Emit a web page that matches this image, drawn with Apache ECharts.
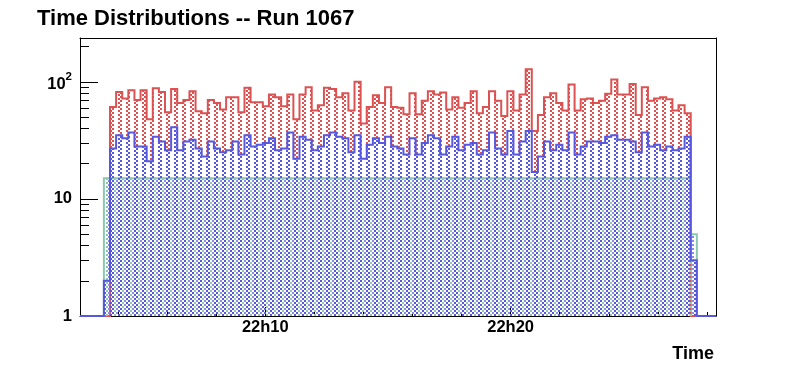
<!DOCTYPE html>
<html>
<head>
<meta charset="utf-8">
<script src="https://cdn.jsdelivr.net/npm/echarts@6/dist/echarts.min.js"></script>
<style>
html,body{margin:0;padding:0;background:#fff;}
#chart{width:796px;height:372px;}
</style>
</head>
<body>
<div id="chart"></div>
<script>
// ---- data (time axis in seconds after 22:00:00) ----
const titleText = 'Time Distributions -- Run 1067';
const xAxisName = 'Time';
const xMin = 146.8, xMax = 1702.2;
const yMin = 1, yMax = 237;
const binStart = 205.2;
const binWidth = 14.95;

const redCounts = [0,
  61,82,72,85,70,85,48,88,82,55,87,66,70,83,56,54,70,66,58,74,
  74,55,89,67,67,62,78,74,62,78,48,78,90,57,63,89,87,74,80,57,
  100,44,61,77,66,90,61,60,53,80,53,69,83,78,81,58,74,60,66,83,
  54,61,83,69,51,83,57,78,128,38,52,74,80,66,57,95,57,71,72,66,
  69,79,105,78,78,96,52,90,69,72,74,71,57,63,54,
  0];
const blueCounts = [2,
  27,35,33,37,28,28,21,34,31,26,41,26,31,32,27,23,31,27,25,26,
  31,24,35,28,29,30,33,26,27,37,22,34,32,26,28,35,37,34,33,25,
  35,22,29,33,30,34,28,27,24,33,24,30,35,33,24,28,34,26,29,30,
  24,26,37,27,24,38,24,31,38,17,23,31,26,29,26,37,24,28,31,31,
  30,34,35,32,32,31,25,37,28,29,26,28,26,27,34,
  3];
const greenCounts = [15,
  15,15,15,15,15,15,15,15,15,15,15,15,15,15,15,15,15,15,15,15,
  15,15,15,15,15,15,15,15,15,15,15,15,15,15,15,15,15,15,15,15,
  15,15,15,15,15,15,15,15,15,15,15,15,15,15,15,15,15,15,15,15,
  15,15,15,15,15,15,15,15,15,15,15,15,15,15,15,15,15,15,15,15,
  15,15,15,15,15,15,15,15,15,15,15,15,15,15,15,
  5];

const xTickValues = [240,360,480,600,720,840,960,1080,1200,1320,1440,1560,1680];
const xMajorTickValues = [600,1200];
const xLabelValues = [600,1200];
const xLabelTexts = ['22h10','22h20'];
const yMinorTickValues = [2,3,4,5,6,7,8,9,20,30,40,50,60,70,80,90,200];
const yMajorTickValues = [1,10,100];
const yLabelTexts = ['1','10','10^2'];

// ---- styling ----
const FONT = '"Liberation Sans", Arial, Helvetica, sans-serif';
const RED = 'rgb(220,82,82)';
const BLUE = 'rgb(88,88,222)';
const BLUE2 = 'rgb(135,140,232)';
const GREEN = 'rgb(140,200,175)';

function makePattern(blocks, w, h) {
  const c = document.createElement('canvas');
  c.width = w; c.height = h;
  const ctx = c.getContext('2d');
  blocks.forEach(b => { ctx.fillStyle = b[4]; ctx.fillRect(b[0], b[1], b[2], b[3]); });
  return { image: c, repeat: 'repeat' };
}
const redPattern = makePattern([[0,0,2,2,RED],[6,2,2,2,RED]], 8, 4);
const bluePattern = makePattern([[0,0,2,2,BLUE],[6,2,2,2,BLUE]], 8, 4);
const greenPattern = makePattern([[4,0,2,2,BLUE2],[2,2,2,2,GREEN]], 8, 4);

function histPoints(counts) {
  let first = 0, last = counts.length - 1;
  while (first < last && !(counts[first] > 0)) first++;
  while (last > first && !(counts[last] > 0)) last--;
  const x0 = binStart + first * binWidth;
  const x1 = binStart + (last + 1) * binWidth;
  const pts = [[xMin, yMin], [x0, yMin]];
  for (let i = first; i <= last; i++) {
    const a = binStart + i * binWidth;
    const v = Math.max(counts[i], yMin);
    pts.push([a, v], [a + binWidth, v]);
  }
  pts.push([x1, yMin], [xMax, yMin]);
  return pts;
}

function histSeries(name, counts, color, pattern, lw) {
  const raw = histPoints(counts);
  return {
    type: 'custom', name: name, xAxisIndex: 0, yAxisIndex: 0,
    silent: true, clip: false, animation: false,
    data: [[binStart, yMin]],
    renderItem: function (params, api) {
      const pts = raw.map(p => api.coord(p));
      return {
        type: 'group',
        children: [
          { type: 'polygon', shape: { points: pts }, style: { fill: pattern, stroke: null } },
          { type: 'polyline', shape: { points: pts }, style: { fill: null, stroke: color, lineWidth: lw } }
        ]
      };
    }
  };
}

const chart = echarts.init(document.getElementById('chart'), null, { renderer: 'canvas' });

const yLabelRich = {
  n: { fontSize: 16.5, fontWeight: 'bold', fontFamily: FONT, color: '#000' },
  b: { fontSize: 16.5, fontWeight: 'bold', fontFamily: FONT, color: '#000', lineHeight: 23, verticalAlign: 'bottom' },
  s: { fontSize: 11.5, fontWeight: 'bold', fontFamily: FONT, color: '#000', lineHeight: 12, verticalAlign: 'top' }
};

const option = {
  animation: false,
  backgroundColor: '#fff',
  grid: { left: 80, top: 38, width: 636, height: 278, containLabel: false, outerBoundsMode: 'none' },
  xAxis: [
    {
      type: 'value', position: 'bottom', min: xMin, max: xMax,
      axisLine: { show: true, onZero: false, lineStyle: { color: '#000', width: 1 } },
      axisTick: { show: true, inside: true, length: 4, customValues: xTickValues, lineStyle: { color: '#000', width: 1 } },
      axisLabel: {
        show: true, customValues: xLabelValues, margin: 3,
        fontSize: 16.5, fontWeight: 'bold', fontFamily: FONT, color: '#000',
        formatter: function (v) { const i = xLabelValues.indexOf(Math.round(v)); return i >= 0 ? xLabelTexts[i] : ''; }
      },
      splitLine: { show: false }
    },
    {
      type: 'value', position: 'bottom', min: xMin, max: xMax,
      axisLine: { show: false, onZero: false },
      axisTick: { show: true, inside: true, length: 9, customValues: xMajorTickValues, lineStyle: { color: '#000', width: 1 } },
      axisLabel: { show: false }, splitLine: { show: false }
    },
    {
      type: 'value', position: 'top', min: xMin, max: xMax,
      axisLine: { show: true, onZero: false, lineStyle: { color: '#000', width: 1 } },
      axisTick: { show: false }, axisLabel: { show: false }, splitLine: { show: false }
    }
  ],
  yAxis: [
    {
      type: 'log', logBase: 10, position: 'left', min: yMin, max: yMax,
      axisLine: { show: true, onZero: false, lineStyle: { color: '#000', width: 1 } },
      axisTick: { show: true, inside: true, length: 9, customValues: yMinorTickValues, lineStyle: { color: '#000', width: 1 } },
      axisLabel: {
        show: true, customValues: yMajorTickValues, margin: 8, rich: yLabelRich,
        formatter: function (v) {
          let idx = -1;
          yMajorTickValues.forEach((t, i) => { if (Math.abs(t - v) < 1e-6 * t) idx = i; });
          if (idx < 0) return '';
          const txt = yLabelTexts[idx];
          if (txt.indexOf('^') >= 0) { const parts = txt.split('^'); return '{b|' + parts[0] + '}{s|' + parts[1] + '}'; }
          return '{n|' + txt + '}';
        }
      },
      splitLine: { show: false }, minorTick: { show: false }
    },
    {
      type: 'log', logBase: 10, position: 'left', min: yMin, max: yMax,
      axisLine: { show: false, onZero: false },
      axisTick: { show: true, inside: true, length: 18, customValues: yMajorTickValues, lineStyle: { color: '#000', width: 1 } },
      axisLabel: { show: false }, splitLine: { show: false }
    },
    {
      type: 'log', logBase: 10, position: 'right', min: yMin, max: yMax,
      axisLine: { show: true, onZero: false, lineStyle: { color: '#000', width: 1 } },
      axisTick: { show: false }, axisLabel: { show: false }, splitLine: { show: false }
    }
  ],
  graphic: [
    { type: 'text', x: 37, y: 18.5, silent: true,
      style: { text: titleText, font: 'bold 22px ' + FONT, fill: '#000', align: 'left', verticalAlign: 'middle', textAlign: 'left', textVerticalAlign: 'middle' } },
    { type: 'text', x: 714, y: 354, silent: true,
      style: { text: xAxisName, font: 'bold 18px ' + FONT, fill: '#000', align: 'right', verticalAlign: 'middle', textAlign: 'right', textVerticalAlign: 'middle' } }
  ],
  series: [
    histSeries('red', redCounts, RED, redPattern, 2),
    histSeries('green', greenCounts, GREEN, greenPattern, 2),
    histSeries('blue', blueCounts, BLUE, bluePattern, 2)
  ]
};
chart.setOption(option);
</script>
</body>
</html>
